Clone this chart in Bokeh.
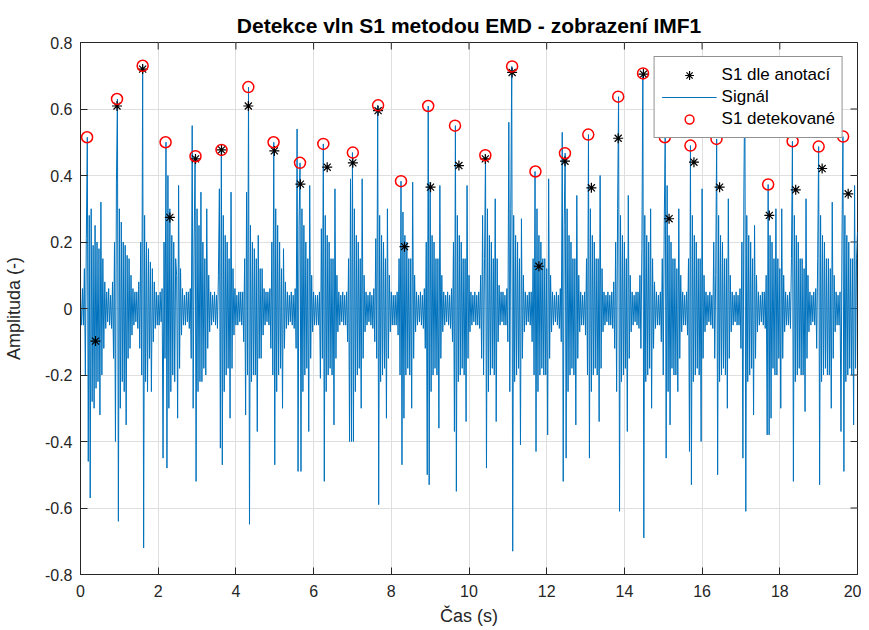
import math
from bokeh.plotting import figure
from bokeh.models import Range1d, FixedTicker, Legend, LegendItem
from bokeh.embed import file_html
from bokeh.resources import INLINE

# ---------------- data ----------------
title_text = "Detekce vln S1 metodou EMD - zobrazení IMF1"
x_label = "Čas (s)"
y_label = "Amplituda (-)"
x_ticks = [0, 2, 4, 6, 8, 10, 12, 14, 16, 18, 20]
y_ticks = [-0.8, -0.6, -0.4, -0.2, 0, 0.2, 0.4, 0.6, 0.8]
y_tick_labels = ["-0.8", "-0.6", "-0.4", "-0.2", "0", "0.2", "0.4", "0.6", "0.8"]

sample_dt = 0.025
signal = [
    0.03, -0.05, 0.06, -0.05,
    0.12, -0.2, 0.21, 0.515, -0.46, 0.28, -0.57, 0.3, -0.28, 0.19, -0.3, 0.25, -0.24, 0.2, -0.22, 0.18, -0.32, 0.32, -0.2, 0.15, -0.12, 0.08, -0.06, 0.05, -0.04, 0.06, -0.05, 0.04, -0.06,
    0.08, -0.15, 0.2, -0.4, 0.38, 0.63, -0.64, 0.3, -0.3, 0.26, -0.22, 0.2, -0.25, 0.19, -0.35, 0.16, -0.15, 0.15, -0.12, 0.1, -0.08, 0.06, -0.05, 0.05, -0.04, 0.05, -0.06, 0.08,
    -0.12, 0.2, -0.2, 0.73, -0.72, 0.28, -0.22, 0.2, -0.25, 0.18, -0.15, 0.14, -0.25, 0.12, -0.1, 0.08, -0.06, 0.05, -0.05, 0.04, -0.05, 0.05, -0.04, 0.06,
    -0.45, 0.2, -0.15, 0.50, -0.48, 0.4, -0.3, 0.3, -0.25, 0.22, -0.2, 0.2, -0.22, 0.15, 0.1, -0.33, 0.37, -0.18, 0.12, -0.08, 0.06, -0.05, 0.04, -0.05, 0.05, -0.04, 0.05, -0.06, 0.06,
    -0.15, 0.55, -0.3, 0.2, 0.458, -0.52, 0.3, -0.25, 0.25, -0.22, 0.35, -0.22, 0.2, -0.18, 0.15, -0.2, 0.3, -0.12, 0.1, -0.07, 0.05, -0.05, 0.04, -0.04, 0.05, -0.05, 0.04, -0.06, 0.1,
    0.36, -0.42, 0.477, -0.47, 0.28, -0.25, 0.22, -0.2, 0.2, -0.18, 0.15, -0.33, 0.35, -0.18, 0.12, -0.08, 0.06, -0.05, 0.04, -0.05, 0.05, -0.04, 0.05, -0.05, 0.05, -0.1, 0.15, -0.32,
    0.35, -0.2, 0.666, -0.649, 0.25, -0.22, 0.2, -0.2, 0.18, -0.2, 0.15, -0.37, 0.22, -0.15, 0.12, -0.15, 0.12, -0.08, 0.06, -0.05, 0.05, -0.04, 0.05, -0.05, 0.06, -0.12, 0.2, -0.2,
    0.50, -0.47, 0.3, -0.25, 0.25, -0.2, 0.2, -0.18, 0.12, -0.3, 0.18, -0.12, 0.08, -0.06, 0.05, -0.05, 0.04, -0.04, 0.05, -0.05, 0.04, -0.06, 0.06, -0.12, 0.54, -0.49, 0.25,
    0.438, -0.49, 0.3, -0.25, 0.25, -0.2, 0.2, -0.18, 0.15, -0.37, 0.37, -0.15, 0.1, -0.07, 0.05, -0.05, 0.04, -0.05, 0.04, -0.05, 0.05, -0.21, 0.24, -0.15,
    0.495, -0.52, 0.28, -0.25, 0.22, -0.2, 0.2, -0.18, 0.15, -0.2, 0.15, -0.35, 0.36, -0.15, 0.1, -0.07, 0.05, -0.05, 0.04, -0.04, 0.05, -0.05, 0.04, -0.05, 0.05, -0.1, 0.15, -0.4, 0.39, -0.4,
    0.469, -0.4, 0.3, -0.25, 0.22, -0.2, 0.2, -0.18, 0.15, -0.3, 0.39, -0.15, 0.1, -0.07, 0.05, -0.05, 0.04, -0.04, 0.05, -0.05, 0.04, -0.06, 0.06, -0.1, 0.21, -0.15,
    0.611, -0.59, 0.28, -0.22, 0.22, -0.2, 0.2, -0.18, 0.15, -0.33, 0.3, -0.15, 0.1, -0.07, 0.05, -0.05, 0.04, -0.05, 0.04, -0.05, 0.05, -0.08, 0.15, -0.2,
    0.383, -0.47, 0.29, -0.33, 0.22, -0.2, 0.2, -0.18, 0.15, -0.2, 0.15, -0.3, 0.38, -0.15, 0.1, -0.07, 0.05, -0.05, 0.04, -0.04, 0.05, -0.05, 0.04, -0.06, 0.06, -0.12, 0.2, -0.5,
    0.609, -0.53, 0.38, -0.25, 0.22, -0.2, 0.2, -0.18, 0.15, -0.2, 0.15, -0.36, 0.37, -0.15, 0.1, -0.07, 0.05, -0.05, 0.04, -0.04, 0.05, -0.05, 0.04, -0.06, 0.06, -0.1, 0.2, -0.37,
    0.55, -0.55, 0.28, -0.22, 0.22, -0.2, 0.2, -0.18, 0.15, -0.2, 0.15, -0.34, 0.37, -0.15, 0.1, -0.07, 0.05, -0.05, 0.04, -0.04, 0.05, -0.05, 0.04, -0.05, 0.05, -0.06, 0.1, -0.15, 0.28, -0.2, 0.15,
    0.461, -0.48, 0.3, -0.25, 0.22, -0.2, 0.2, -0.18, 0.15, -0.2, 0.33, -0.34, 0.15, -0.1, 0.07, -0.05, 0.05, -0.04, 0.05, -0.05, 0.04, -0.05, 0.06, -0.1, 0.56, -0.25, 0.3,
    0.728, -0.73, 0.28, -0.22, 0.22, -0.2, 0.2, -0.18, 0.15, -0.41, 0.27, -0.15, 0.1, -0.07, 0.05, -0.05, 0.04, -0.04, 0.05, -0.05, 0.05, -0.1, 0.15, -0.2,
    0.412, -0.43, 0.3, -0.25, 0.22, -0.2, 0.2, -0.18, 0.15, -0.2, 0.15, -0.2, 0.12, -0.38, 0.39, -0.15, 0.1, -0.07, 0.05, -0.05, 0.04, -0.04, 0.05, -0.05, 0.04, -0.06, 0.06, -0.1, 0.53, -0.52, 0.25,
    0.467, -0.45, 0.3, -0.25, 0.22, -0.2, 0.2, -0.18, 0.15, -0.2, 0.15, -0.35, 0.34, -0.15, 0.1, -0.07, 0.05, -0.05, 0.04, -0.05, 0.05, -0.08, 0.15, -0.2,
    0.523, -0.45, 0.3, -0.25, 0.22, -0.2, 0.2, -0.18, 0.15, -0.2, 0.15, -0.34, 0.40, -0.18, 0.12, -0.07, 0.05, -0.05, 0.04, -0.04, 0.05, -0.05, 0.04, -0.05, 0.05, -0.06, 0.08, -0.12, 0.2, -0.25, 0.3,
    0.637, -0.61, 0.28, -0.22, 0.22, -0.2, 0.2, -0.18, 0.15, -0.37, 0.34, -0.15, 0.1, -0.07, 0.05, -0.05, 0.04, -0.04, 0.05, -0.05, 0.05, -0.06, 0.1, -0.12, 0.18,
    0.707, -0.69, 0.28, -0.22, 0.22, -0.2, 0.2, -0.18, 0.3, -0.3, 0.15, -0.12, 0.08, -0.06, 0.05, -0.05, 0.04, -0.05, 0.05, -0.1, 0.15, -0.2, 0.25,
    0.515, -0.45, 0.37, -0.25, 0.22, -0.35, 0.2, -0.18, 0.15, -0.2, 0.15, -0.2, 0.12, -0.25, 0.3, -0.15, 0.1, -0.07, 0.05, -0.05, 0.04, -0.05, 0.05, -0.08, 0.15, -0.43,
    0.49, -0.53, 0.28, -0.22, 0.22, -0.2, 0.2, -0.18, 0.15, -0.2, 0.15, -0.4, 0.36, -0.15, 0.1, -0.07, 0.05, -0.05, 0.04, -0.04, 0.05, -0.05, 0.04, -0.06, 0.2, -0.15, 0.1,
    0.51, -0.5, 0.28, -0.22, 0.22, -0.2, 0.2, -0.18, 0.15, -0.2, 0.15, -0.3, 0.33, -0.15, 0.1, -0.07, 0.05, -0.05, 0.04, -0.04, 0.05, -0.05, 0.04, -0.05, 0.06, -0.12, 0.2, -0.45, 0.35,
    0.7, -0.61, 0.28, -0.22, 0.22, -0.2, 0.2, -0.18, 0.15, -0.32, 0.25, -0.15, 0.1, -0.07, 0.05, -0.05, 0.04, -0.04, 0.05, -0.05, 0.05, -0.06, 0.1, -0.38,
    0.373, -0.38, 0.22, -0.33, 0.2, -0.18, 0.15, -0.2, 0.3, -0.2, 0.15, -0.15, 0.12, -0.3, 0.3, -0.15, 0.1, -0.07, 0.05, -0.05, 0.04, -0.05, 0.05, -0.06, 0.15,
    0.503, -0.52, 0.28, -0.22, 0.22, -0.2, 0.2, -0.18, 0.15, -0.2, 0.15, -0.2, 0.12, -0.31, 0.33, -0.15, 0.1, -0.07, 0.05, -0.05, 0.04, -0.04, 0.05, -0.05, 0.06, -0.12, 0.15,
    0.487, -0.53, 0.28, -0.22, 0.22, -0.2, 0.2, -0.18, 0.15, -0.2, 0.15, -0.2, 0.12, -0.3, 0.32, -0.15, 0.1, -0.07, 0.05, -0.05, 0.04, -0.05, 0.05, -0.37, 0.2,
    0.517, -0.49, 0.28, -0.22, 0.22, -0.2, 0.2, -0.18, 0.15, -0.2, 0.15, -0.35, 0.37, -0.18, 0.15, 0.23,
]
assert len(signal) == 801, len(signal)

# S1 according to annotations
ann_t = [0.386, 0.94, 1.60, 2.30, 2.96, 3.63, 4.32, 4.99, 5.66, 6.35, 7.01, 7.66, 8.34, 9.01, 9.74,
         10.42, 11.11, 11.80, 12.47, 13.15, 13.84, 14.49, 15.15, 15.79, 16.45, 17.73, 18.41, 19.09, 19.76]
ann_a = [-0.098, 0.609, 0.72, 0.274, 0.45, 0.477, 0.609, 0.474, 0.374, 0.425, 0.438, 0.595, 0.186, 0.365, 0.43,
         0.45, 0.71, 0.127, 0.443, 0.363, 0.512, 0.705, 0.27, 0.44, 0.365, 0.28, 0.357, 0.421, 0.345]

# detected S1
det_t = [0.17, 0.94, 1.60, 2.19, 2.96, 3.63, 4.32, 4.97, 5.65, 6.25, 7.01, 7.66, 8.25, 8.95, 9.64,
         10.42, 11.11, 11.71, 12.47, 13.07, 13.84, 14.48, 15.04, 15.70, 16.37, 17.70, 18.33, 19.0, 19.63]
det_a = [0.515, 0.63, 0.73, 0.50, 0.458, 0.477, 0.666, 0.50, 0.438, 0.495, 0.469, 0.611, 0.383, 0.609, 0.55,
         0.461, 0.728, 0.412, 0.467, 0.523, 0.637, 0.707, 0.515, 0.49, 0.51, 0.373, 0.503, 0.487, 0.517]

legend_labels = ["S1 dle anotací", "Signál", "S1 detekované"]

# ---------------- figure ----------------
FONT = "Liberation Sans"
AX = "#262626"

x_lo, x_hi = x_ticks[0], x_ticks[-1]
y_lo, y_hi = y_ticks[0], y_ticks[-1]
time = [i * sample_dt for i in range(len(signal))]

p = figure(width=861, height=630, x_range=Range1d(x_lo, x_hi), y_range=Range1d(y_lo, y_hi),
           output_backend="svg", toolbar_location=None,
           min_border_left=79, min_border_right=4, min_border_top=42, min_border_bottom=56,
           title=title_text)
p.title.align = "center"
p.title.text_font = FONT
p.title.text_font_size = "21px"
p.title.text_font_style = "bold"
p.title.text_color = "black"
p.title.standoff = 12

p.background_fill_color = "white"
p.border_fill_color = "white"
p.outline_line_color = AX
p.outline_line_width = 1
p.outline_line_alpha = 1


def style_axis(ax):
    ax.axis_line_color = AX
    ax.major_tick_line_color = AX
    ax.major_tick_in = 7
    ax.major_tick_out = 0
    ax.minor_tick_line_color = None
    ax.major_label_text_font = FONT
    ax.major_label_text_font_size = "16px"
    ax.major_label_text_color = AX
    ax.axis_label_text_font = FONT
    ax.axis_label_text_font_size = "18px"
    ax.axis_label_text_font_style = "normal"
    ax.axis_label_text_color = AX


xa = p.below[0]
ya = p.left[0]
style_axis(xa)
style_axis(ya)
xa.ticker = FixedTicker(ticks=x_ticks)
ya.ticker = FixedTicker(ticks=y_ticks)
ya.major_label_overrides = dict(zip(y_ticks, y_tick_labels))
xa.axis_label = x_label
ya.axis_label = y_label
xa.major_label_standoff = 10
xa.axis_label_standoff = 6
ya.major_label_standoff = 8
ya.axis_label_standoff = 18

p.xgrid.ticker = FixedTicker(ticks=x_ticks)
p.ygrid.ticker = FixedTicker(ticks=y_ticks)
p.grid.grid_line_color = "#dfdfdf"
p.grid.grid_line_width = 1

# box ticks on the top and right edges (inner half of a dash marker, clipped by the frame)
p.scatter(x_ticks, [y_hi] * len(x_ticks), marker="dash", size=14, angle=math.pi / 2,
          line_color=AX, line_width=1)
p.scatter([x_hi] * len(y_ticks), y_ticks, marker="dash", size=14,
          line_color=AX, line_width=1)

sig = p.line(time, signal, line_color="#0072BD", line_width=1)
ann = p.scatter(ann_t, ann_a, marker="asterisk", size=10, line_color="black", line_width=1.2)
det = p.scatter(det_t, det_a, marker="circle", size=11, fill_color=None,
                line_color="#FF0000", line_width=1.5)

legend = Legend(items=[LegendItem(label=legend_labels[0], renderers=[ann]),
                       LegendItem(label=legend_labels[1], renderers=[sig]),
                       LegendItem(label=legend_labels[2], renderers=[det])],
                location="top_right")
legend.margin = 14
legend.padding = 7
legend.spacing = 0
legend.glyph_width = 55
legend.glyph_height = 22
legend.label_height = 22
legend.label_standoff = 5
legend.label_text_font = FONT
legend.label_text_font_size = "17px"
legend.label_text_color = "black"
legend.border_line_color = AX
legend.border_line_width = 1
legend.background_fill_color = "white"
legend.background_fill_alpha = 1
p.add_layout(legend)

open("out.html", "w").write(file_html(p, INLINE))
